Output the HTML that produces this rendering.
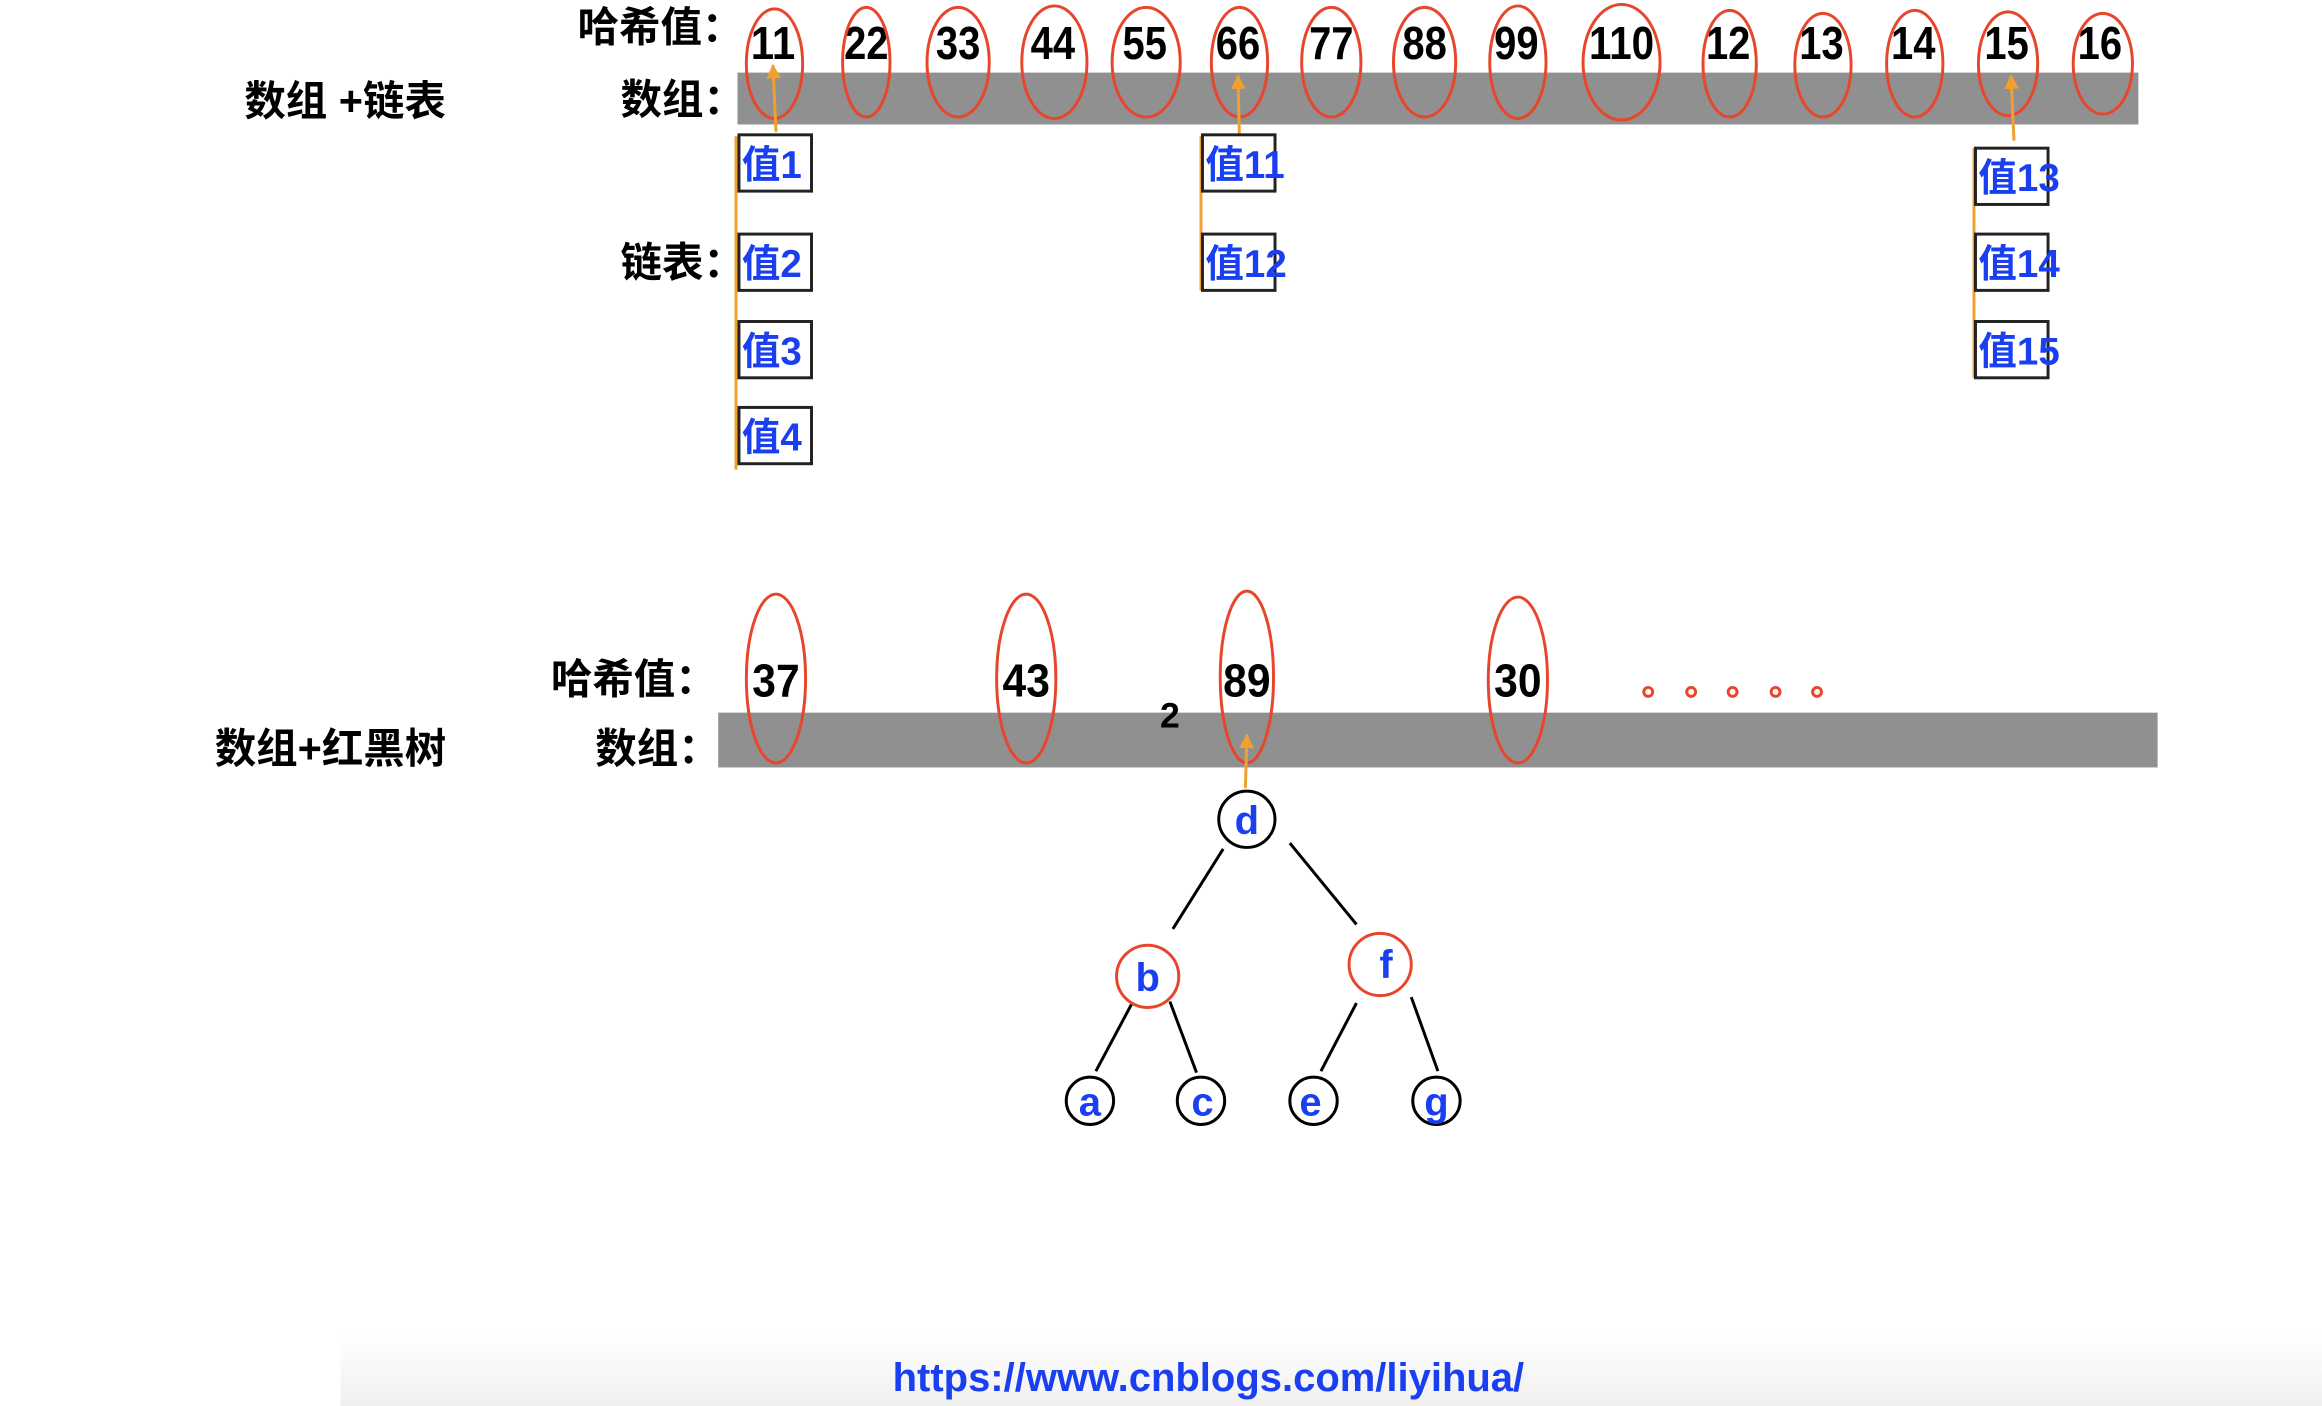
<!DOCTYPE html>
<html><head><meta charset="utf-8">
<style>
html,body{margin:0;padding:0;background:#fff;}
svg{display:block;}
.num{font-family:"Liberation Sans",sans-serif;font-weight:bold;font-size:31px;fill:#000;text-anchor:middle;}
.cjk{font-family:"Liberation Sans","Noto Sans CJK SC",sans-serif;font-weight:bold;font-size:28px;fill:#000;}
.val{font-family:"Liberation Sans","Noto Sans CJK SC",sans-serif;font-weight:bold;font-size:26px;fill:#1a3ff0;}
.lt{font-family:"Liberation Sans",sans-serif;font-weight:bold;font-size:27px;fill:#1a3ff0;text-anchor:middle;}
.el{fill:none;stroke:#e8462c;stroke-width:2;}
.box{fill:#fff;stroke:#222;stroke-width:2;}
.or{stroke:#f0a030;stroke-width:2;fill:none;}
.tl{stroke:#000;stroke-width:2;}
</style></head><body>
<svg width="2322" height="1406" viewBox="0 0 1568 949" preserveAspectRatio="none" xmlns="http://www.w3.org/2000/svg">
<defs>
<linearGradient id="bg" x1="0" y1="0" x2="0" y2="1"><stop offset="0" stop-color="#fff"/><stop offset="1" stop-color="#f0f0f0"/></linearGradient>
<marker id="ar" markerWidth="10" markerHeight="10" refX="9" refY="5" orient="auto" markerUnits="userSpaceOnUse"><path d="M0,0 L10,5 L0,10 Z" fill="#f0a030"/></marker>
</defs>
<rect x="230" y="900" width="1338" height="49" fill="url(#bg)"/>

<!-- top section -->
<text class="cjk" x="165" y="78">数组 +链表</text>
<text class="cjk" x="390" y="28">哈希值：</text>
<text class="cjk" x="419" y="77">数组：</text>
<text class="cjk" x="419" y="187">链表：</text>
<rect x="498" y="49" width="946" height="35" fill="#909090"/>
<g>
<text class="num" x="522" y="40" textLength="30" lengthAdjust="spacingAndGlyphs">11</text><ellipse class="el" cx="523" cy="43" rx="19" ry="37"/>
<text class="num" x="585" y="40" textLength="30" lengthAdjust="spacingAndGlyphs">22</text><ellipse class="el" cx="585" cy="42" rx="16" ry="37"/>
<text class="num" x="647" y="40" textLength="30" lengthAdjust="spacingAndGlyphs">33</text><ellipse class="el" cx="647" cy="42" rx="21" ry="37"/>
<text class="num" x="711" y="40" textLength="30" lengthAdjust="spacingAndGlyphs">44</text><ellipse class="el" cx="712" cy="42" rx="22" ry="38"/>
<text class="num" x="773" y="40" textLength="30" lengthAdjust="spacingAndGlyphs">55</text><ellipse class="el" cx="774" cy="42" rx="23" ry="37"/>
<text class="num" x="836" y="40" textLength="30" lengthAdjust="spacingAndGlyphs">66</text><ellipse class="el" cx="837" cy="42" rx="19" ry="37"/>
<text class="num" x="899" y="40" textLength="30" lengthAdjust="spacingAndGlyphs">77</text><ellipse class="el" cx="899" cy="42" rx="20" ry="37"/>
<text class="num" x="962" y="40" textLength="30" lengthAdjust="spacingAndGlyphs">88</text><ellipse class="el" cx="962" cy="42" rx="21" ry="37"/>
<text class="num" x="1024" y="40" textLength="30" lengthAdjust="spacingAndGlyphs">99</text><ellipse class="el" cx="1025" cy="42" rx="19" ry="38"/>
<text class="num" x="1095" y="40" textLength="44" lengthAdjust="spacingAndGlyphs">110</text><ellipse class="el" cx="1095" cy="42" rx="26" ry="39"/>
<text class="num" x="1167" y="40" textLength="30" lengthAdjust="spacingAndGlyphs">12</text><ellipse class="el" cx="1168" cy="43" rx="18" ry="36"/>
<text class="num" x="1230" y="40" textLength="30" lengthAdjust="spacingAndGlyphs">13</text><ellipse class="el" cx="1231" cy="44" rx="19" ry="35"/>
<text class="num" x="1292" y="40" textLength="30" lengthAdjust="spacingAndGlyphs">14</text><ellipse class="el" cx="1293" cy="43" rx="19" ry="36"/>
<text class="num" x="1355" y="40" textLength="30" lengthAdjust="spacingAndGlyphs">15</text><ellipse class="el" cx="1356" cy="43" rx="20" ry="35"/>
<text class="num" x="1418" y="40" textLength="30" lengthAdjust="spacingAndGlyphs">16</text><ellipse class="el" cx="1420" cy="43" rx="20" ry="34"/>
</g>
<!-- column 11 -->
<line class="or" x1="497" y1="92" x2="497" y2="317"/>
<line class="or" x1="524" y1="89" x2="522" y2="44" marker-end="url(#ar)"/>
<rect class="box" x="499" y="91" width="49" height="38"/><text class="val" x="501" y="120">值1</text>
<rect class="box" x="499" y="158" width="49" height="38"/><text class="val" x="501" y="187">值2</text>
<rect class="box" x="499" y="217" width="49" height="38"/><text class="val" x="501" y="246">值3</text>
<rect class="box" x="499" y="275" width="49" height="38"/><text class="val" x="501" y="304">值4</text>
<!-- column 66 -->
<line class="or" x1="811" y1="92" x2="811" y2="196"/>
<line class="or" x1="837" y1="95" x2="836" y2="51" marker-end="url(#ar)"/>
<rect class="box" x="812" y="91" width="49" height="38"/><text class="val" x="814" y="120">值11</text>
<rect class="box" x="812" y="158" width="49" height="38"/><text class="val" x="814" y="187">值12</text>
<!-- column 15 -->
<line class="or" x1="1333" y1="100" x2="1333" y2="255"/>
<line class="or" x1="1360" y1="95" x2="1358" y2="51" marker-end="url(#ar)"/>
<rect class="box" x="1334" y="100" width="49" height="38"/><text class="val" x="1336" y="129">值13</text>
<rect class="box" x="1334" y="158" width="49" height="38"/><text class="val" x="1336" y="187">值14</text>
<rect class="box" x="1334" y="217" width="49" height="38"/><text class="val" x="1336" y="246">值15</text>

<!-- bottom section -->
<text class="cjk" x="145" y="515">数组+红黑树</text>
<text class="cjk" x="372" y="468">哈希值：</text>
<text class="cjk" x="402" y="515">数组：</text>
<rect x="485" y="481" width="972" height="37" fill="#909090"/>
<text class="num" x="524" y="470" textLength="32" lengthAdjust="spacingAndGlyphs">37</text><ellipse class="el" cx="524" cy="458" rx="20" ry="57"/>
<text class="num" x="693" y="470" textLength="32" lengthAdjust="spacingAndGlyphs">43</text><ellipse class="el" cx="693" cy="458" rx="20" ry="57"/>
<text class="num" x="842" y="470" textLength="32" lengthAdjust="spacingAndGlyphs">89</text><ellipse class="el" cx="842" cy="457" rx="18" ry="58"/>
<text class="num" x="1025" y="470" textLength="32" lengthAdjust="spacingAndGlyphs">30</text><ellipse class="el" cx="1025" cy="459" rx="20" ry="56"/>
<text class="num" x="790" y="491" style="font-size:24px">2</text>
<g fill="none" stroke="#e8462c" stroke-width="2">
<circle cx="1113" cy="467" r="3"/><circle cx="1142" cy="467" r="3"/><circle cx="1170" cy="467" r="3"/><circle cx="1199" cy="467" r="3"/><circle cx="1227" cy="467" r="3"/>
</g>
<line class="or" x1="841" y1="532" x2="842" y2="496" marker-end="url(#ar)"/>
<!-- tree -->
<line class="tl" x1="826" y1="573" x2="792" y2="627"/>
<line class="tl" x1="871" y1="569" x2="916" y2="624"/>
<line class="tl" x1="764" y1="678" x2="740" y2="723"/>
<line class="tl" x1="790" y1="676" x2="808" y2="724"/>
<line class="tl" x1="916" y1="677" x2="892" y2="723"/>
<line class="tl" x1="953" y1="673" x2="971" y2="723"/>
<circle cx="842" cy="553" r="19" fill="#fff" stroke="#000" stroke-width="2"/>
<circle cx="775" cy="659" r="21" fill="#fff" stroke="#e8462c" stroke-width="2"/>
<circle cx="932" cy="651" r="21" fill="#fff" stroke="#e8462c" stroke-width="2"/>
<circle cx="736" cy="743" r="16" fill="#fff" stroke="#000" stroke-width="2"/>
<circle cx="811" cy="743" r="16" fill="#fff" stroke="#000" stroke-width="2"/>
<circle cx="887" cy="743" r="16" fill="#fff" stroke="#000" stroke-width="2"/>
<circle cx="970" cy="743" r="16" fill="#fff" stroke="#000" stroke-width="2"/>
<text class="lt" x="842" y="563">d</text>
<text class="lt" x="775" y="669">b</text>
<text class="lt" x="936" y="660">f</text>
<text class="lt" x="736" y="753">a</text>
<text class="lt" x="812" y="753">c</text>
<text class="lt" x="885" y="753">e</text>
<text class="lt" x="970" y="753">g</text>

<text x="816" y="939" style="font-family:'Liberation Sans',sans-serif;font-weight:bold;font-size:27px;fill:#1a3ff0;text-anchor:middle">https://www.cnblogs.com/liyihua/</text>
</svg>
</body></html>
